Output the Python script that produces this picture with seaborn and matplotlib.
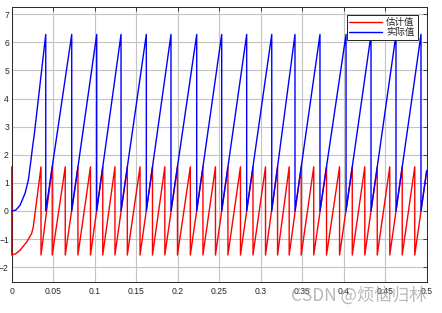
import numpy as np
import pandas as pd
import matplotlib
matplotlib.use("Agg")
import matplotlib.pyplot as plt
import seaborn as sns

# ---------------- data ----------------
# blue ("实际值"): start-up curve, then sawtooth 0 -> 2*pi with vertical resets
blue_start_t = [0.0, 0.005, 0.010, 0.016, 0.020, 0.0225, 0.025, 0.0275]
blue_start_y = [0.0, 0.03, 0.20, 0.62, 1.09, 1.65, 2.25, 2.80]
blue_peak_t = [0.0410, 0.0723, 0.1024, 0.1317, 0.1622, 0.1919, 0.2229, 0.2530,
               0.2831, 0.3133, 0.3413, 0.3714, 0.4028, 0.4329, 0.4630, 0.4931]
blue_top = 6.2832
blue_bottom = 0.0
blue_end = 1.44

# red ("估计值"): start jump, start-up curve, then sawtooth -pi/2 -> pi/2
red_start_t = [0.0, 0.0, 0.005, 0.010, 0.018, 0.024, 0.026]
red_start_y = [1.5708, -1.5708, -1.52, -1.40, -1.11, -0.80, -0.57]
red_drop_t = [0.0353, 0.0488, 0.0645, 0.0798, 0.0949, 0.1097, 0.1244, 0.1393,
              0.1546, 0.1696, 0.1845, 0.1997, 0.2152, 0.2304, 0.2455, 0.2605,
              0.2756, 0.2907, 0.3058, 0.3203, 0.3343, 0.3488, 0.3639, 0.3793,
              0.3950, 0.4103, 0.4254, 0.4404, 0.4555, 0.4705, 0.4856]
red_top = 1.5708
red_bottom = -1.5708
red_end = 1.43
t_end = 0.5

x_ticks = [0, 0.05, 0.1, 0.15, 0.2, 0.25, 0.3, 0.35, 0.4, 0.45, 0.5]
x_tick_labels = ["0", "0.05", "0.1", "0.15", "0.2", "0.25", "0.3", "0.35", "0.4", "0.45", "0.5"]
y_ticks = [-2, -1, 0, 1, 2, 3, 4, 5, 6, 7]
labels = ["估计值", "实际值"]
watermark = "CSDN @烦恼归林"

# ---------------- build polylines (vertices from read values) ----------------
bt = list(blue_start_t)
by = list(blue_start_y)
for p in blue_peak_t:
    bt += [p, p]
    by += [blue_top, blue_bottom]
bt.append(t_end); by.append(blue_end)

rt = list(red_start_t)
ry = list(red_start_y)
for d in red_drop_t:
    rt += [d, d]
    ry += [red_top, red_bottom]
rt.append(t_end); ry.append(red_end)

df_red = pd.DataFrame({"t": rt, "v": ry})
df_blue = pd.DataFrame({"t": bt, "v": by})

# ---------------- figure ----------------
sns.set_theme(style="white")
plt.rcParams['font.family'] = ['Liberation Sans', 'Noto Sans CJK SC', 'DejaVu Sans']

fig = plt.figure(figsize=(4.42, 3.13), dpi=100)
ax = fig.add_axes([0.0265, 0.100, 0.9389, 0.8767])

sns.lineplot(data=df_red, x="t", y="v", sort=False, estimator=None,
             color="#ff0000", lw=1.0, ax=ax, label=labels[0])
sns.lineplot(data=df_blue, x="t", y="v", sort=False, estimator=None,
             color="#0000ff", lw=1.0, ax=ax, label=labels[1])
for ln in ax.lines:
    ln.set_clip_on(False)
    ln.set_zorder(3)

ax.set_xlim(0, 0.5)
ax.set_ylim(-2.52, 7.25)
ax.set_xticks(x_ticks)
ax.set_xticklabels(x_tick_labels)
ax.set_yticks(y_ticks)
ax.set_xlabel("")
ax.set_ylabel("")
ax.grid(True, color="#c4c4c4", lw=0.8, ls="-")
ax.set_axisbelow(True)
ax.tick_params(direction="in", length=3, width=0.6, colors="#262626",
               labelsize=6.2, top=True, right=True)
ax.tick_params(axis="y", pad=2)
ax.tick_params(axis="x", pad=3.5)
for s in ax.spines.values():
    s.set_color("#262626")
    s.set_linewidth(0.7)
    s.set_zorder(2.5)

leg = ax.legend(loc="upper right", bbox_to_anchor=(0.978, 0.972), borderaxespad=0,
                handlelength=3.4, handletextpad=0.5,
                borderpad=0.3, labelspacing=0.15, fancybox=False, framealpha=1,
                prop={'family': ['Noto Sans CJK SC', 'DejaVu Sans'], 'size': 6.8})
leg.get_frame().set_edgecolor("#222222")
leg.get_frame().set_linewidth(0.7)
leg.set_zorder(5)

fig.text(0.965, 0.057, watermark, ha="right", va="center", fontsize=12.5,
         color="#a0a0a0", alpha=0.75, family=['Noto Sans CJK SC', 'DejaVu Sans'])

fig.savefig("out.png", dpi=100)
